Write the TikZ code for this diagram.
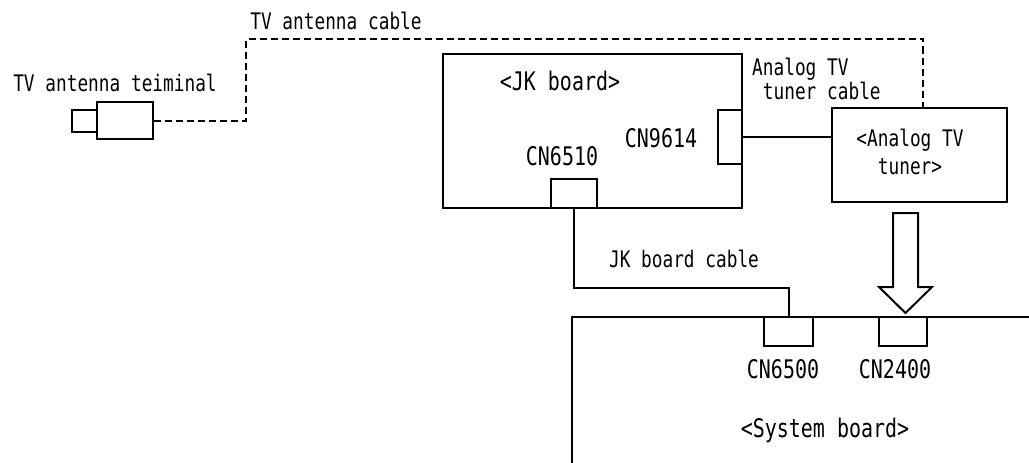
\documentclass[tikz,border=0pt]{standalone}
\usepackage{fontspec}
\usepackage{tikz}
\usetikzlibrary{calc}
\newfontfamily\gothic[FakeStretch=0.78]{DejaVu Sans Mono}
\newcommand\bigtxt{\gothic\fontsize{25.6}{28}\selectfont}
\newcommand\smalltxt{\gothic\fontsize{22.8}{22}\selectfont}
\newcommand\tunertxt{\gothic\fontsize{22.8}{28}\selectfont}

\tikzset{
  board/.style={rectangle, draw, line width=2pt, inner sep=0pt},
  wire/.style={line width=2pt},
  coax/.style={line width=2pt, dash pattern=on 7pt off 4pt},
  lbl/.style={inner sep=0pt, anchor=base, font=\bigtxt},
  slbl/.style={inner sep=0pt, anchor=base, font=\smalltxt},
}

\begin{document}
\begin{tikzpicture}[x=1pt, y=-1pt]
\useasboundingbox (0,0) rectangle (1029,463);

% antenna terminal
\node[board, minimum width=56, minimum height=37] (antbody) at (125,120.5) {};
\node[board, minimum width=25, minimum height=22] (antplug) at (84.5,121)  {};
\node[slbl] (antlabel)   at (115,91) {TV antenna teiminal};
\node[slbl] (coaxlabel)  at (336,29) {TV antenna cable};

% JK board
\node[board, minimum width=299, minimum height=154] (jk)     at (592.5,131)  {};
\node[board, minimum width=24,  minimum height=54]  (cn9614) at (730,137)    {};
\node[board, minimum width=46,  minimum height=29]  (cn6510) at (574,193.5)  {};
\node[lbl] (jklabel)     at (560,90)  {<JK board>};
\node[lbl] (cn9614label) at (661,147) {CN9614};
\node[lbl] (cn6510label) at (562,165) {CN6510};

% analog TV tuner
\node[board, minimum width=175, minimum height=94] (tuner) at (919.5,155) {};
\node[inner sep=0pt, align=center, font=\tunertxt] (tunerlabel) at (910,152)
    {<Analog TV\\tuner>};
\node[inner sep=0pt, align=left, font=\smalltxt, anchor=west] (tunercablelabel)
    at (752,79) {Analog TV\\\hphantom{x}tuner cable};

% system board
\coordinate (systl) at (572,317);
\draw[wire] (systl) ++(0,150) -- (systl) -- ++(460,0);
\node[board, minimum width=49, minimum height=29] (cn6500) at (788.5,331.5) {};
\node[board, minimum width=48, minimum height=29] (cn2400) at (903,331.5)   {};
\node[lbl] (cn6500label) at (783,378) {CN6500};
\node[lbl] (cn2400label) at (895,378) {CN2400};
\node[lbl] (syslabel)    at (825,437) {<System board>};

% cables
\coordinate (coaxtop) at (246,39);
\coordinate (tunerin) at (923,108);
\draw[coax] (antbody.east) -| (coaxtop) -| (tunerin);
\draw[wire] (cn9614.east) -- (cn9614.east -| tuner.west);
\draw[wire] (cn6510.south) -- ++(0,79) -| (cn6500.north);
\node[slbl] (jkcablelabel) at (684,267) {JK board cable};

% mounting arrow
\draw[wire, fill=white] (893,213) -- (918,213) -- (918,287) -- (932,287)
    -- (905.5,313) -- (879,287) -- (893,287) -- cycle;
\end{tikzpicture}
\end{document}
